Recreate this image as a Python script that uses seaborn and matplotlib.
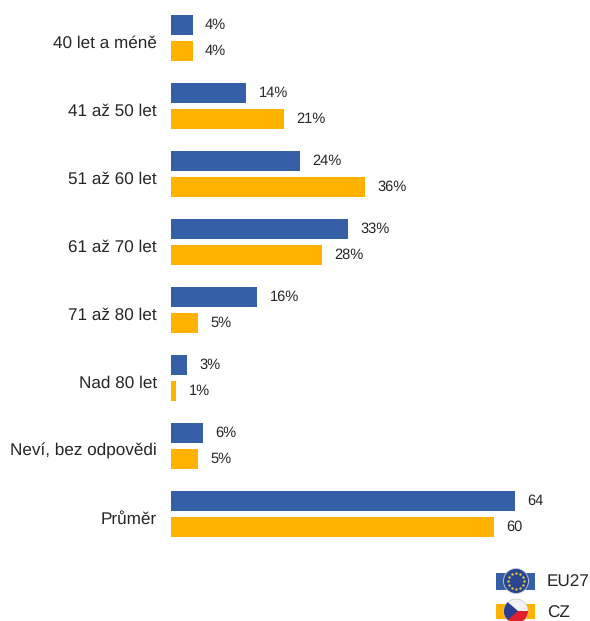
import matplotlib
matplotlib.use("Agg")
import matplotlib.pyplot as plt
import matplotlib.patches as mpatches
from matplotlib.transforms import ScaledTranslation
import numpy as np
import pandas as pd
import seaborn as sns

categories = ["40 let a méně", "41 až 50 let", "51 až 60 let", "61 až 70 let",
              "71 až 80 let", "Nad 80 let", "Neví, bez odpovědi", "Průměr"]
eu27 = [4, 14, 24, 33, 16, 3, 6, 64]
cz = [4, 21, 36, 28, 5, 1, 5, 60]
eu_labels = ["4%", "14%", "24%", "33%", "16%", "3%", "6%", "64"]
cz_labels = ["4%", "21%", "36%", "28%", "5%", "1%", "5%", "60"]
series_names = ["EU27", "CZ"]

BLUE = "#3560A8"
YELLOW = "#FFB200"
TEXT = "#262626"

df = pd.DataFrame({"cat": categories, "EU27": eu27, "CZ": cz})
long_df = df.melt(id_vars="cat", var_name="series", value_name="value")

sns.set_style("white")
plt.rcParams["font.family"] = ["Liberation Sans", "DejaVu Sans"]
plt.rcParams["text.hinting"] = "no_hinting"

fig = plt.figure(figsize=(5.90, 6.21), dpi=100)
ax = fig.add_axes([171 / 590, 1 - 548 / 621, 1 - 171 / 590, 544 / 621])

sns.barplot(data=long_df, y="cat", x="value", hue="series", order=categories,
            hue_order=series_names, palette=[BLUE, YELLOW], orient="h",
            saturation=1, width=0.765, gap=0.23, linewidth=0, legend=False, ax=ax)

ax.set_xlim(0, 419 / 5.375)
ax.set_ylim(len(categories) - 0.5, -0.5)
ax.set_xlabel("")
ax.set_ylabel("")
ax.set_xticks([])
ax.tick_params(axis="y", length=0, pad=10, labelsize=12.3, labelcolor=TEXT)
sns.despine(ax=ax, left=True, bottom=True)

# category labels sit a little below the middle of each bar pair
shift = ScaledTranslation(0, -3.5 / 100, fig.dpi_scale_trans)
for lab in ax.get_yticklabels():
    lab.set_transform(lab.get_transform() + shift)

for container, labels in zip(ax.containers, [eu_labels, cz_labels]):
    ax.bar_label(container, labels=labels, padding=9, fontsize=10.5, color=TEXT)

# legend keys with the round flag badges, overlay axes in pixels
leg = fig.add_axes([0, 0, 1, 1], facecolor="none")
leg.set_xlim(0, 590)
leg.set_ylim(621, 0)
leg.axis("off")

leg.add_patch(mpatches.Rectangle((496, 573), 39, 17, facecolor=BLUE, linewidth=0))
leg.add_patch(mpatches.Circle((516, 581), 12.5, facecolor="#27468F", edgecolor="#C9CDD8", linewidth=0.6))
angles = np.deg2rad(np.arange(0, 360, 30))
leg.scatter(516 + 8 * np.cos(angles), 581 + 8 * np.sin(angles), s=3, color="#E8C83A", linewidths=0)

leg.add_patch(mpatches.Rectangle((496, 604), 39, 15, facecolor=YELLOW, linewidth=0))
badge = mpatches.Circle((516, 611), 12, facecolor="#F4F4F6", edgecolor="#D0D0D0", linewidth=0.6)
leg.add_patch(badge)
red = mpatches.Rectangle((504, 611), 24, 12, facecolor="#E0202C", linewidth=0)
leg.add_patch(red)
red.set_clip_path(badge)
wedge = mpatches.Polygon([(503, 598), (518, 611), (503, 624)], facecolor="#2B3F92", linewidth=0)
leg.add_patch(wedge)
wedge.set_clip_path(badge)

for y, name in zip([582, 613], series_names):
    leg.text(547, y, name, fontsize=12.3, va="center", color=TEXT)

fig.savefig("out.png", dpi=100)
